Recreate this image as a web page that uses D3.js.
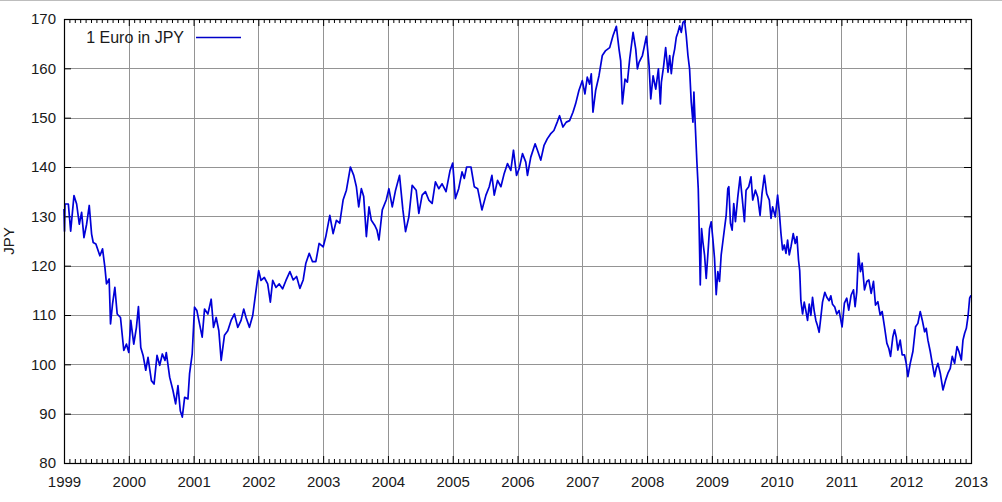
<!DOCTYPE html>
<html>
<head>
<meta charset="utf-8">
<script src="https://cdn.jsdelivr.net/npm/d3@7"></script>
<style>
  body { margin: 0; background: #fff; }
  svg { display: block; }
  text { font-family: "Liberation Sans", Arial, sans-serif; fill: #1a1a1a; }
</style>
</head>
<body>
<div id="chart"></div>
<script>
/* chart values */
const seriesName = "1 Euro in JPY";
const yearTicks = [1999, 2000, 2001, 2002, 2003, 2004, 2005, 2006, 2007, 2008, 2009, 2010, 2011, 2012, 2013];
const valueTicks = [80, 90, 100, 110, 120, 130, 140, 150, 160, 170];

// time as decimal years
const times = [
  1999.000, 1999.008, 1999.015, 1999.067, 1999.103, 1999.154, 1999.195, 1999.236, 1999.272, 1999.308,
  1999.349, 1999.390, 1999.426, 1999.451, 1999.492, 1999.554, 1999.595, 1999.631, 1999.656, 1999.697,
  1999.718, 1999.749, 1999.785, 1999.821, 1999.872, 1999.923, 1999.964, 2000.000, 2000.031, 2000.077,
  2000.118, 2000.149, 2000.185, 2000.221, 2000.262, 2000.297, 2000.349, 2000.390, 2000.436, 2000.477,
  2000.518, 2000.559, 2000.579, 2000.631, 2000.682, 2000.723, 2000.759, 2000.795, 2000.826, 2000.862,
  2000.913, 2000.938, 2000.979, 2001.015, 2001.051, 2001.092, 2001.133, 2001.169, 2001.221, 2001.272,
  2001.308, 2001.349, 2001.390, 2001.426, 2001.477, 2001.528, 2001.579, 2001.631, 2001.682, 2001.733,
  2001.774, 2001.810, 2001.862, 2001.913, 2001.964, 2002.005, 2002.041, 2002.092, 2002.144, 2002.185,
  2002.221, 2002.272, 2002.323, 2002.374, 2002.426, 2002.487, 2002.538, 2002.590, 2002.641, 2002.692,
  2002.733, 2002.785, 2002.836, 2002.887, 2002.938, 2003.000, 2003.041, 2003.103, 2003.154, 2003.205,
  2003.256, 2003.308, 2003.359, 2003.421, 2003.472, 2003.513, 2003.549, 2003.590, 2003.626, 2003.667,
  2003.708, 2003.744, 2003.795, 2003.831, 2003.862, 2003.913, 2003.974, 2004.015, 2004.067, 2004.118,
  2004.179, 2004.231, 2004.272, 2004.323, 2004.374, 2004.436, 2004.477, 2004.528, 2004.579, 2004.631,
  2004.682, 2004.733, 2004.785, 2004.836, 2004.897, 2004.959, 2005.000, 2005.041, 2005.092, 2005.144,
  2005.179, 2005.215, 2005.282, 2005.333, 2005.385, 2005.451, 2005.513, 2005.564, 2005.605, 2005.641,
  2005.692, 2005.744, 2005.795, 2005.846, 2005.897, 2005.938, 2005.985, 2006.026, 2006.077, 2006.128,
  2006.154, 2006.205, 2006.272, 2006.308, 2006.359, 2006.410, 2006.459, 2006.510, 2006.562, 2006.613,
  2006.649, 2006.701, 2006.753, 2006.804, 2006.856, 2006.897, 2006.948, 2007.000, 2007.041, 2007.077,
  2007.113, 2007.139, 2007.165, 2007.206, 2007.258, 2007.309, 2007.361, 2007.423, 2007.474, 2007.526,
  2007.567, 2007.593, 2007.619, 2007.660, 2007.696, 2007.732, 2007.784, 2007.825, 2007.851, 2007.876,
  2007.928, 2007.954, 2007.990, 2008.031, 2008.057, 2008.093, 2008.134, 2008.175, 2008.205, 2008.221,
  2008.256, 2008.287, 2008.323, 2008.349, 2008.374, 2008.400, 2008.426, 2008.451, 2008.477, 2008.503,
  2008.528, 2008.554, 2008.579, 2008.605, 2008.631, 2008.656, 2008.682, 2008.708, 2008.723, 2008.744,
  2008.769, 2008.790, 2008.800, 2008.821, 2008.841, 2008.862, 2008.887, 2008.913, 2008.938, 2008.964,
  2008.990, 2009.015, 2009.041, 2009.067, 2009.092, 2009.118, 2009.144, 2009.169, 2009.195, 2009.221,
  2009.246, 2009.262, 2009.287, 2009.313, 2009.338, 2009.364, 2009.400, 2009.436, 2009.467, 2009.503,
  2009.528, 2009.569, 2009.605, 2009.631, 2009.672, 2009.708, 2009.744, 2009.774, 2009.810, 2009.846,
  2009.887, 2009.913, 2009.938, 2009.979, 2010.015, 2010.041, 2010.067, 2010.092, 2010.118, 2010.144,
  2010.169, 2010.195, 2010.221, 2010.256, 2010.287, 2010.313, 2010.338, 2010.356, 2010.374, 2010.400,
  2010.426, 2010.451, 2010.477, 2010.503, 2010.528, 2010.554, 2010.579, 2010.605, 2010.631, 2010.656,
  2010.682, 2010.708, 2010.744, 2010.774, 2010.810, 2010.836, 2010.862, 2010.897, 2010.928, 2010.964,
  2011.010, 2011.046, 2011.082, 2011.113, 2011.149, 2011.186, 2011.211, 2011.237, 2011.263, 2011.294,
  2011.320, 2011.356, 2011.392, 2011.423, 2011.459, 2011.495, 2011.526, 2011.562, 2011.598, 2011.629,
  2011.665, 2011.701, 2011.732, 2011.758, 2011.794, 2011.820, 2011.845, 2011.871, 2011.907, 2011.938,
  2011.974, 2012.000, 2012.026, 2012.062, 2012.103, 2012.144, 2012.180, 2012.216, 2012.247, 2012.284,
  2012.309, 2012.335, 2012.371, 2012.402, 2012.438, 2012.464, 2012.490, 2012.526, 2012.567, 2012.608,
  2012.644, 2012.680, 2012.711, 2012.747, 2012.784, 2012.814, 2012.851, 2012.876, 2012.902, 2012.928,
  2012.954, 2012.979, 2013.000
];

// EUR/JPY close, one value per time above
const eurJpy = [
  131.5, 127.0, 132.5, 132.5, 127.0, 134.2, 132.5, 128.4, 130.8, 125.7,
  128.4, 132.2, 126.4, 124.7, 124.4, 122.0, 123.4, 119.7, 116.3, 117.3,
  108.2, 112.2, 115.6, 110.2, 109.5, 102.8, 104.1, 102.4, 108.9, 104.1,
  107.5, 111.7, 103.4, 101.8, 98.8, 101.4, 96.7, 96.0, 101.8, 99.8,
  102.1, 100.8, 102.4, 97.4, 94.7, 92.0, 95.7, 90.6, 89.3, 93.3,
  93.0, 98.1, 102.1, 111.6, 110.9, 108.2, 105.5, 111.2, 110.2, 113.2,
  107.5, 109.5, 106.8, 100.8, 105.9, 106.8, 108.9, 110.2, 107.5, 108.9,
  111.2, 109.5, 107.5, 109.9, 115.0, 119.0, 117.0, 117.6, 116.3, 112.6,
  117.0, 115.6, 116.3, 115.3, 117.0, 118.8, 117.1, 117.8, 115.4, 117.1,
  120.5, 122.5, 120.8, 120.8, 124.5, 123.8, 125.9, 130.2, 126.5, 129.2,
  128.6, 133.3, 135.3, 140.0, 138.3, 136.0, 131.9, 135.6, 134.0, 125.9,
  131.9, 129.2, 128.2, 127.2, 125.2, 131.3, 133.3, 135.6, 131.9, 135.3,
  138.3, 131.3, 126.9, 129.9, 136.3, 135.3, 130.6, 134.3, 135.0, 133.3,
  132.6, 137.0, 135.6, 136.6, 135.0, 139.3, 140.8, 133.6, 135.6, 139.0,
  137.7, 140.0, 140.0, 136.0, 135.6, 131.3, 134.3, 136.0, 138.3, 134.3,
  137.3, 136.0, 138.7, 140.7, 139.3, 143.4, 138.3, 139.7, 142.7, 141.0,
  138.3, 142.0, 144.7, 143.4, 141.4, 144.4, 145.7, 146.7, 147.4, 149.1,
  150.4, 148.1, 149.1, 149.4, 151.1, 152.8, 155.5, 157.5, 154.8, 158.2,
  156.8, 158.9, 151.1, 155.5, 158.5, 162.6, 163.6, 164.2, 166.6, 168.5,
  163.9, 161.5, 152.8, 157.8, 157.2, 161.9, 167.3, 163.9, 159.9, 161.2,
  162.6, 164.2, 166.5, 160.5, 153.8, 158.5, 155.8, 159.9, 152.8, 157.2,
  160.5, 164.2, 159.2, 162.6, 158.9, 162.2, 163.9, 166.3, 167.3, 168.6,
  167.3, 169.3, 169.6, 166.6, 162.6, 159.9, 153.1, 149.1, 155.2, 148.4,
  141.0, 135.6, 130.2, 116.1, 127.5, 124.8, 122.2, 117.4, 122.2, 127.5,
  128.9, 125.5, 121.5, 114.1, 118.8, 116.8, 122.2, 124.8, 127.5, 130.2,
  135.6, 136.0, 128.6, 127.2, 132.6, 128.9, 133.9, 138.0, 133.9, 128.9,
  135.3, 136.0, 138.0, 133.3, 135.3, 133.9, 130.2, 134.6, 138.3, 134.6,
  133.3, 129.6, 131.9, 129.9, 134.3, 130.9, 126.5, 123.2, 124.2, 122.5,
  125.2, 122.2, 123.8, 126.5, 124.5, 125.9, 121.1, 119.0, 112.9, 110.2,
  112.6, 110.9, 108.9, 112.2, 109.9, 113.6, 110.9, 108.9, 107.8, 106.5,
  109.5, 112.6, 114.6, 113.6, 112.9, 113.9, 112.2, 111.6, 110.2, 110.9,
  107.6, 112.4, 113.4, 111.0, 114.0, 115.1, 111.7, 114.7, 122.5, 118.8,
  120.5, 115.1, 116.8, 117.1, 114.4, 116.8, 112.0, 112.7, 110.0, 110.7,
  107.6, 104.3, 103.2, 101.6, 105.6, 107.0, 105.6, 102.9, 104.9, 101.9,
  101.9, 100.2, 97.5, 100.2, 102.6, 107.6, 108.3, 110.7, 109.0, 106.6,
  107.3, 104.9, 102.6, 100.2, 97.5, 99.2, 100.2, 98.2, 94.8, 96.8,
  98.2, 99.2, 101.6, 100.2, 103.6, 102.6, 100.9, 104.9, 106.3, 107.3,
  109.7, 113.4, 114.0
];

const width = 1002,
  height = 502,
  margin = { top: 19, right: 31, bottom: 39, left: 64 };

const svg = d3.select("#chart")
  .append("svg")
  .attr("width", width)
  .attr("height", height);

// thin gray rule along the very top of the image
svg.append("line")
  .attr("x1", 0).attr("x2", width)
  .attr("y1", 0.5).attr("y2", 0.5)
  .attr("stroke", "#bdbdbd");

const xScale = d3.scaleLinear()
  .domain([yearTicks[0], yearTicks[yearTicks.length - 1]])
  .range([margin.left, width - margin.right]);

const yScale = d3.scaleLinear()
  .domain([valueTicks[0], valueTicks[valueTicks.length - 1]])
  .range([height - margin.bottom, margin.top]);

const plotW = width - margin.left - margin.right,
  plotH = height - margin.top - margin.bottom;

// grid
const grid = svg.append("g").attr("stroke", "#949494").attr("stroke-width", 1);
grid.selectAll("line.vx")
  .data(yearTicks.slice(1, -1))
  .join("line")
  .attr("class", "vx")
  .attr("x1", d => Math.round(xScale(d)) + 0.5)
  .attr("x2", d => Math.round(xScale(d)) + 0.5)
  .attr("y1", margin.top)
  .attr("y2", height - margin.bottom);
grid.selectAll("line.hy")
  .data(valueTicks.slice(1, -1))
  .join("line")
  .attr("class", "hy")
  .attr("x1", margin.left)
  .attr("x2", width - margin.right)
  .attr("y1", d => Math.round(yScale(d)) + 0.5)
  .attr("y2", d => Math.round(yScale(d)) + 0.5);

// monthly minor ticks, computed from the year ticks
const months = d3.range(yearTicks[0] * 12, yearTicks[yearTicks.length - 1] * 12 + 1)
  .map(m => m / 12)
  .filter(t => Math.abs(t - Math.round(t)) > 1e-6);

function styleAxis(g) {
  g.select(".domain").remove();
  g.selectAll(".tick line").attr("stroke", "#000");
  g.selectAll(".tick text")
    .attr("font-size", 15)
    .attr("fill", "#1a1a1a");
}

// bottom axis: year labels + major ticks
svg.append("g")
  .attr("transform", `translate(0,${height - margin.bottom})`)
  .call(d3.axisBottom(xScale).tickValues(yearTicks).tickFormat(d3.format("d"))
    .tickSizeInner(-7).tickSizeOuter(0).tickPadding(13))
  .call(styleAxis);

svg.append("g")
  .attr("transform", `translate(0,${height - margin.bottom})`)
  .call(d3.axisBottom(xScale).tickValues(months).tickFormat("")
    .tickSizeInner(-4).tickSizeOuter(0))
  .call(styleAxis);

// top axis mirrors ticks
svg.append("g")
  .attr("transform", `translate(0,${margin.top})`)
  .call(d3.axisTop(xScale).tickValues(yearTicks).tickFormat("")
    .tickSizeInner(-7).tickSizeOuter(0))
  .call(styleAxis);

svg.append("g")
  .attr("transform", `translate(0,${margin.top})`)
  .call(d3.axisTop(xScale).tickValues(months).tickFormat("")
    .tickSizeInner(-4).tickSizeOuter(0))
  .call(styleAxis);

// left and right axes
svg.append("g")
  .attr("transform", `translate(${margin.left},0)`)
  .call(d3.axisLeft(yScale).tickValues(valueTicks)
    .tickSizeInner(-7).tickSizeOuter(0).tickPadding(8))
  .call(styleAxis);

svg.append("g")
  .attr("transform", `translate(${width - margin.right},0)`)
  .call(d3.axisRight(yScale).tickValues(valueTicks).tickFormat("")
    .tickSizeInner(-7).tickSizeOuter(0))
  .call(styleAxis);

// the series
const series = times.map((t, i) => [t, eurJpy[i]]);

const lineGen = d3.line()
  .x(d => xScale(d[0]))
  .y(d => yScale(d[1]));

svg.append("path")
  .datum(series)
  .attr("fill", "none")
  .attr("stroke", "#0000d8")
  .attr("stroke-width", 1.7)
  .attr("stroke-linejoin", "round")
  .attr("d", lineGen);

// frame
svg.append("rect")
  .attr("x", margin.left + 0.5)
  .attr("y", margin.top + 0.5)
  .attr("width", plotW)
  .attr("height", plotH)
  .attr("fill", "none")
  .attr("stroke", "#000")
  .attr("stroke-width", 1.2);

// y axis title
svg.append("text")
  .attr("transform", `translate(14,${margin.top + plotH / 2}) rotate(-90)`)
  .attr("text-anchor", "middle")
  .attr("font-size", 15)
  .text("JPY");

// legend
const legend = svg.append("g").attr("transform", "translate(0,37)");
legend.append("text")
  .attr("x", 184)
  .attr("dy", "0.35em")
  .attr("text-anchor", "end")
  .attr("font-size", 16)
  .text(seriesName);
legend.append("line")
  .attr("x1", 196).attr("x2", 241)
  .attr("y1", 0.5).attr("y2", 0.5)
  .attr("stroke", "#0000c8")
  .attr("stroke-width", 1.3);
</script>
</body>
</html>
